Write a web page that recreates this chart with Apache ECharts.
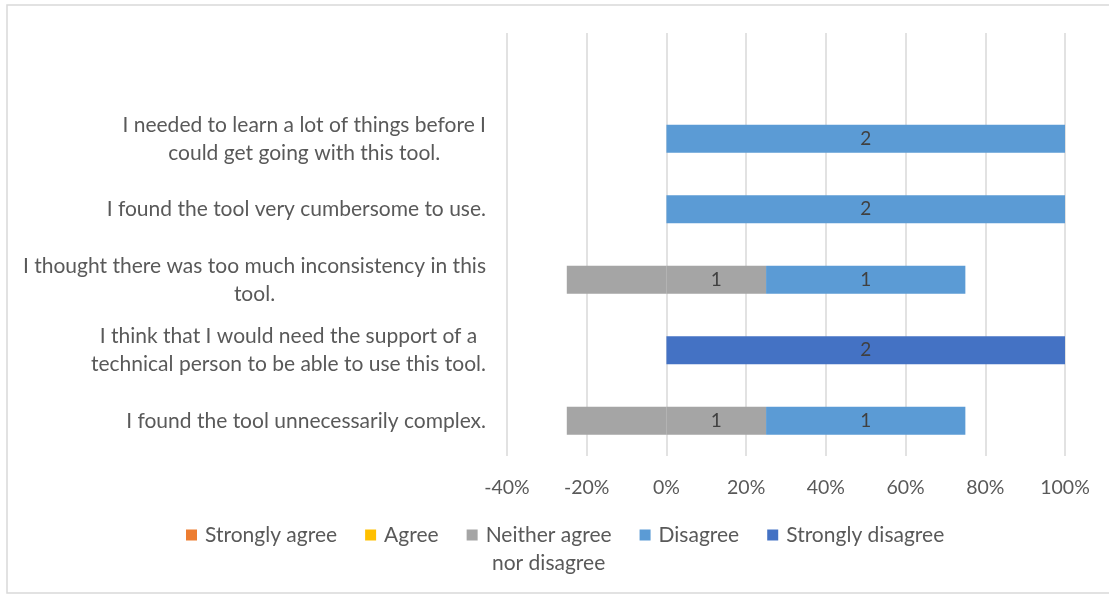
<!DOCTYPE html>
<html>
<head>
<meta charset="utf-8">
<script src="https://cdn.jsdelivr.net/npm/echarts@6/dist/echarts.min.js"></script>
<style>
  html, body { margin: 0; padding: 0; background: #fff; }
  #chart { width: 1109px; height: 598px; }
</style>
</head>
<body>
<div id="chart"></div>
<script>
// Survey statements, top to bottom
const statements = [
  'I needed to learn a lot of things before I\ncould get going with this tool.',
  'I found the tool very cumbersome to use.',
  'I thought there was too much inconsistency in this\ntool.',
  'I think that I would need the support of a\ntechnical person to be able to use this tool.',
  'I found the tool unnecessarily complex.'
];

// Response counts per statement
const stronglyAgree    = [0, 0, 0, 0, 0];
const agree            = [0, 0, 0, 0, 0];
const neither          = [0, 0, 1, 0, 1];
const disagree         = [2, 2, 1, 0, 1];
const stronglyDisagree = [0, 0, 0, 2, 0];

const responseNames = ['Strongly agree', 'Agree', 'Neither agree nor disagree', 'Disagree', 'Strongly disagree'];
const responseColors = ['#ED7D31', '#FFC000', '#A5A5A5', '#5B9BD5', '#4472C4'];

const xTicks = { min: -40, max: 100, step: 20 };

const totals = statements.map((_, i) =>
  stronglyAgree[i] + agree[i] + neither[i] + disagree[i] + stronglyDisagree[i]);

// Percent of respondents; the neutral share is split evenly around 0.
// A blank leading row leaves an empty band above the first statement.
const pct = (arr, sign, half) => [null].concat(arr.map((v, i) => {
  if (!v) return null;
  return { value: sign * (half ? v / 2 : v) / totals[i] * 100, count: v };
}));

const labelText = '#404040';
const axisText = '#595959';
const FONT = 'Lato, "Open Sans", sans-serif';
const TEXT_SIZE = 21;

const countLabel = {
  show: true,
  position: 'inside',
  color: labelText,
  fontSize: 19,
  fontFamily: FONT,
  formatter: p => (p.data && p.data.count) ? String(p.data.count) : ''
};

function barSeries(name, data, color, withLabel) {
  return {
    name: name,
    type: 'bar',
    stack: 'likert',
    barWidth: 28,
    data: data,
    itemStyle: { color: color },
    label: withLabel ? countLabel : { show: false },
    emphasis: { disabled: true },
    animation: false
  };
}

// Negative side stacks outward from 0: neutral half, agree, strongly agree.
// Positive side: neutral half (labelled), disagree, strongly disagree.
const series = [
  barSeries(responseNames[2], pct(neither, -1, true), responseColors[2], false),
  barSeries(responseNames[1], pct(agree, -1, false), responseColors[1], true),
  barSeries(responseNames[0], pct(stronglyAgree, -1, false), responseColors[0], true),
  barSeries(responseNames[2], pct(neither, 1, true), responseColors[2], true),
  barSeries(responseNames[3], pct(disagree, 1, false), responseColors[3], true),
  barSeries(responseNames[4], pct(stronglyDisagree, 1, false), responseColors[4], true)
];

const chart = echarts.init(document.getElementById('chart'), null, { renderer: 'canvas' });

const centered = s => s.split('\n').map(l => '{c|' + l + '}').join('\n');
const richCentered = { c: { align: 'center', color: axisText, fontSize: TEXT_SIZE, fontFamily: FONT, lineHeight: 28 } };

chart.setOption({
  backgroundColor: '#fff',
  textStyle: { fontFamily: FONT },
  graphic: [{
    type: 'rect',
    silent: true,
    shape: { x: 7, y: 5, width: 1130, height: 588 },
    style: { fill: 'none', stroke: '#d9d9d9', lineWidth: 1.5 }
  }],
  grid: { left: 507, right: 44, top: 33, bottom: 142, containLabel: false },
  xAxis: {
    type: 'value',
    min: xTicks.min,
    max: xTicks.max,
    interval: xTicks.step,
    axisLine: { show: false },
    axisTick: { show: false },
    splitLine: { show: true, lineStyle: { color: '#d9d9d9', width: 1.5 } },
    axisLabel: {
      color: axisText,
      fontSize: 19.5,
      fontFamily: FONT,
      margin: 22,
      formatter: v => v + '%'
    }
  },
  yAxis: {
    type: 'category',
    inverse: true,
    data: [''].concat(statements),
    axisLine: { show: false },
    axisTick: { show: false },
    splitLine: { show: false },
    axisLabel: {
      color: axisText,
      fontSize: TEXT_SIZE,
      fontFamily: FONT,
      margin: 21,
      align: 'right',
      lineHeight: 28,
      formatter: v => centered(v),
      rich: richCentered
    }
  },
  legend: {
    left: 181,
    top: 488,
    orient: 'horizontal',
    icon: 'rect',
    itemWidth: 11,
    itemHeight: 11,
    itemGap: 28,
    selectedMode: false,
    data: [
      { name: responseNames[0] },
      { name: responseNames[1] },
      { name: responseNames[2], textStyle: { padding: [28, 0, 0, 3] } },
      { name: responseNames[3] },
      { name: responseNames[4] }
    ],
    formatter: name => name === responseNames[2]
      ? '{c|Neither agree}\n{c|nor disagree}'
      : '{c|' + name + '}',
    textStyle: {
      color: axisText,
      fontSize: TEXT_SIZE,
      fontFamily: FONT,
      padding: [0, 0, 0, 3],
      lineHeight: 28,
      rich: richCentered
    }
  },
  series: series
});
</script>
</body>
</html>
